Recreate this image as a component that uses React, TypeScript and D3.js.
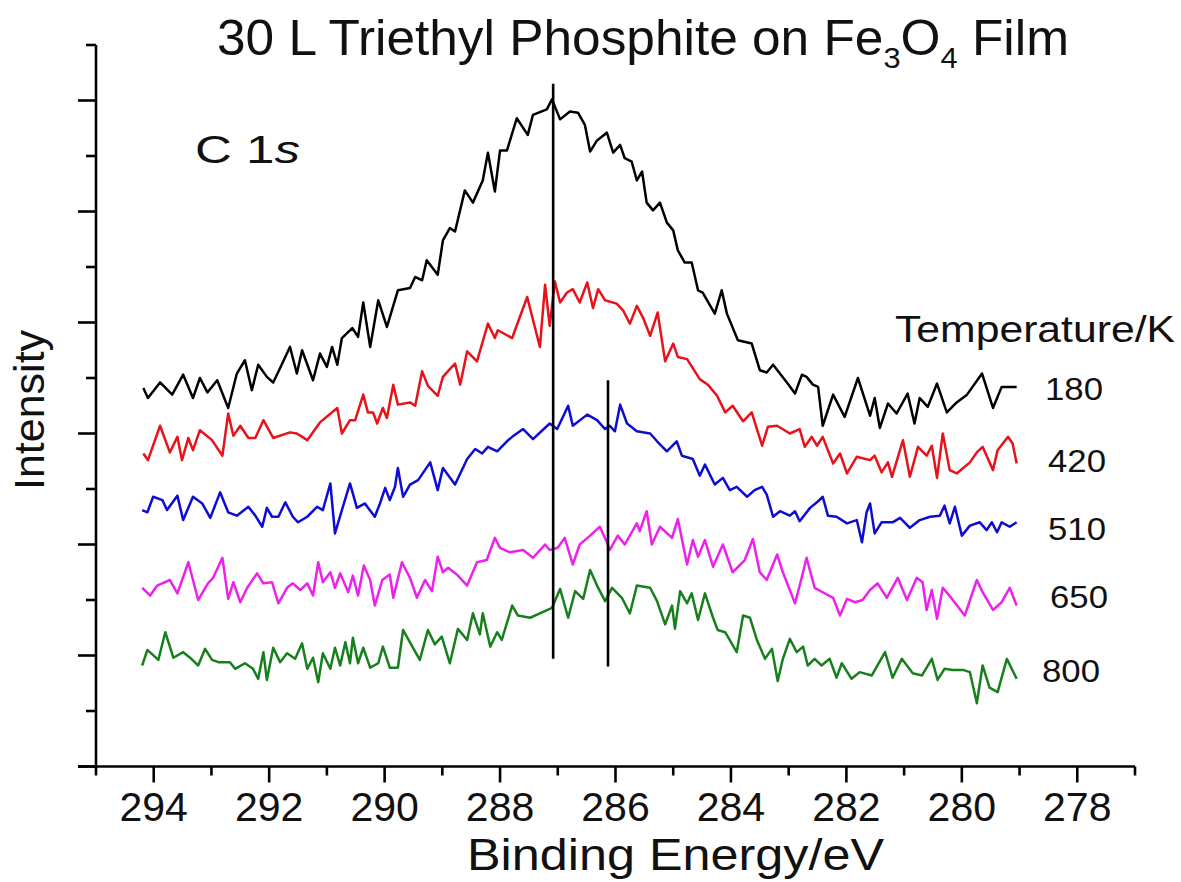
import React from 'react';
import * as d3 from 'd3';

// ---------- data ----------
const xMajorTicks = [294, 292, 290, 288, 286, 284, 282, 280, 278];
const xMinorTicks = [295, 293, 291, 289, 287, 285, 283, 281, 279, 277];
const yMajorTicks = [0, 1, 2, 3, 4, 5, 6];
const yMinorTicks = [0.5, 1.5, 2.5, 3.5, 4.5, 5.5, 6.5];
const temperatures = ['180', '420', '510', '650', '800'];
const seriesColors = ['#000000', '#e8121a', '#0c0cd2', '#ec22ec', '#17801c'];

// [binding energy eV, intensity a.u.]
const t180: [number, number][] = [[294.18,3.41],[294.10,3.32],[293.89,3.46],[293.68,3.35],[293.49,3.53],[293.32,3.32],[293.20,3.50],[293.07,3.37],[292.90,3.48],[292.71,3.23],[292.56,3.54],[292.42,3.66],[292.30,3.39],[292.19,3.62],[292.04,3.51],[291.93,3.46],[291.81,3.59],[291.64,3.78],[291.52,3.54],[291.43,3.75],[291.24,3.48],[291.12,3.72],[291.00,3.60],[290.91,3.78],[290.82,3.62],[290.74,3.86],[290.56,3.95],[290.46,3.87],[290.37,4.18],[290.25,3.78],[290.11,4.20],[289.96,3.96],[289.77,4.29],[289.56,4.31],[289.47,4.41],[289.35,4.38],[289.27,4.56],[289.08,4.43],[288.99,4.74],[288.87,4.85],[288.78,4.82],[288.61,5.19],[288.47,5.08],[288.30,5.28],[288.21,5.53],[288.09,5.18],[288.00,5.55],[287.88,5.55],[287.71,5.84],[287.52,5.69],[287.43,5.87],[287.19,5.92],[287.10,6.01],[286.96,5.83],[286.79,5.90],[286.65,5.89],[286.53,5.78],[286.44,5.54],[286.32,5.64],[286.15,5.71],[286.04,5.53],[285.92,5.60],[285.84,5.48],[285.72,5.45],[285.63,5.28],[285.54,5.36],[285.46,5.08],[285.35,5.01],[285.23,5.08],[285.11,4.90],[285.00,4.83],[284.92,4.65],[284.80,4.54],[284.68,4.54],[284.57,4.29],[284.49,4.27],[284.28,4.08],[284.16,4.29],[284.07,4.08],[283.88,3.84],[283.64,3.81],[283.50,3.57],[283.38,3.55],[283.27,3.62],[283.03,3.46],[282.89,3.36],[282.77,3.53],[282.69,3.51],[282.58,3.44],[282.49,3.42],[282.41,3.07],[282.23,3.35],[282.03,3.15],[281.80,3.50],[281.59,3.16],[281.51,3.32],[281.42,3.05],[281.28,3.27],[281.13,3.18],[280.94,3.36],[280.82,3.09],[280.73,3.32],[280.59,3.24],[280.43,3.45],[280.26,3.19],[280.09,3.28],[279.91,3.35],[279.65,3.54],[279.46,3.23],[279.31,3.42],[279.05,3.42]];

const t420: [number, number][] = [[294.18,2.82],[294.10,2.76],[293.89,3.07],[293.72,2.83],[293.59,2.97],[293.51,2.76],[293.40,2.96],[293.32,2.85],[293.20,3.03],[292.99,2.94],[292.81,2.80],[292.71,3.18],[292.62,2.98],[292.50,3.07],[292.36,2.96],[292.24,2.96],[292.10,3.12],[291.93,2.96],[291.64,3.01],[291.52,3.00],[291.34,2.94],[291.12,3.10],[290.82,3.23],[290.74,3.00],[290.60,3.12],[290.51,3.12],[290.37,3.35],[290.29,3.19],[290.20,3.19],[290.13,3.09],[290.03,3.23],[289.96,3.14],[289.85,3.44],[289.77,3.26],[289.56,3.28],[289.47,3.25],[289.35,3.56],[289.25,3.43],[289.08,3.34],[288.99,3.51],[288.87,3.58],[288.78,3.63],[288.69,3.44],[288.57,3.74],[288.40,3.65],[288.21,3.99],[288.09,3.86],[288.04,3.93],[287.79,3.86],[287.53,4.23],[287.31,3.78],[287.22,4.34],[287.14,3.97],[287.05,4.37],[286.96,4.18],[286.84,4.27],[286.74,4.30],[286.62,4.18],[286.49,4.36],[286.39,4.13],[286.30,4.30],[286.18,4.20],[285.98,4.17],[285.87,4.11],[285.75,3.99],[285.63,4.15],[285.52,4.04],[285.40,3.88],[285.27,4.09],[285.14,3.65],[285.00,3.81],[284.92,3.69],[284.76,3.67],[284.54,3.49],[284.40,3.44],[284.24,3.34],[284.10,3.19],[283.97,3.25],[283.79,3.11],[283.64,3.19],[283.46,2.89],[283.36,3.06],[283.20,3.07],[282.98,3.00],[282.81,3.04],[282.72,2.88],[282.60,2.97],[282.51,2.89],[282.41,2.97],[282.23,2.73],[282.11,2.82],[281.99,2.64],[281.82,2.79],[281.59,2.76],[281.51,2.80],[281.39,2.65],[281.28,2.74],[281.21,2.61],[281.02,2.94],[280.90,2.61],[280.76,2.88],[280.61,2.80],[280.52,2.89],[280.43,2.60],[280.33,3.00],[280.21,2.67],[280.09,2.64],[279.86,2.74],[279.74,2.83],[279.64,2.88],[279.46,2.67],[279.38,2.85],[279.20,2.97],[279.12,2.91],[279.05,2.73]];

const t510: [number, number][] = [[294.20,2.31],[294.11,2.29],[294.01,2.43],[293.85,2.40],[293.77,2.31],[293.59,2.44],[293.49,2.22],[293.32,2.43],[293.16,2.37],[293.02,2.24],[292.85,2.47],[292.71,2.29],[292.56,2.26],[292.36,2.34],[292.24,2.26],[292.12,2.16],[292.04,2.33],[291.95,2.25],[291.84,2.25],[291.72,2.38],[291.59,2.25],[291.50,2.20],[291.34,2.25],[291.17,2.34],[291.07,2.31],[290.94,2.55],[290.86,2.10],[290.74,2.31],[290.60,2.55],[290.48,2.33],[290.34,2.37],[290.30,2.34],[290.17,2.25],[290.08,2.37],[289.99,2.51],[289.91,2.40],[289.82,2.52],[289.77,2.69],[289.68,2.43],[289.56,2.54],[289.42,2.58],[289.21,2.74],[289.08,2.49],[288.99,2.69],[288.78,2.54],[288.57,2.77],[288.43,2.86],[288.31,2.82],[288.21,2.88],[288.05,2.84],[287.88,2.93],[287.79,2.97],[287.60,3.04],[287.43,2.95],[287.14,3.09],[287.01,3.04],[286.82,3.25],[286.74,3.07],[286.49,3.17],[286.32,3.12],[286.18,3.04],[286.10,3.07],[286.01,3.02],[285.92,3.26],[285.80,3.09],[285.63,3.02],[285.40,3.00],[285.28,2.93],[285.11,2.84],[284.94,2.93],[284.85,2.80],[284.66,2.77],[284.54,2.62],[284.45,2.72],[284.28,2.54],[284.14,2.60],[284.02,2.49],[283.90,2.52],[283.72,2.43],[283.59,2.49],[283.46,2.52],[283.38,2.45],[283.27,2.25],[283.15,2.30],[282.98,2.26],[282.89,2.30],[282.81,2.21],[282.63,2.33],[282.51,2.38],[282.41,2.43],[282.32,2.26],[282.17,2.25],[281.99,2.19],[281.82,2.22],[281.73,2.02],[281.65,2.29],[281.59,2.37],[281.51,2.10],[281.39,2.20],[281.20,2.20],[281.07,2.24],[280.90,2.15],[280.73,2.22],[280.55,2.25],[280.38,2.26],[280.30,2.35],[280.21,2.19],[280.12,2.34],[280.00,2.08],[279.86,2.17],[279.69,2.20],[279.57,2.13],[279.48,2.20],[279.39,2.11],[279.31,2.20],[279.17,2.16],[279.05,2.20]];

const t650: [number, number][] = [[294.20,1.61],[294.06,1.54],[293.94,1.63],[293.72,1.68],[293.59,1.56],[293.40,1.84],[293.23,1.50],[293.06,1.65],[292.97,1.70],[292.81,1.88],[292.71,1.51],[292.62,1.66],[292.50,1.48],[292.38,1.61],[292.21,1.74],[292.10,1.65],[291.95,1.66],[291.84,1.47],[291.69,1.61],[291.59,1.65],[291.46,1.59],[291.34,1.65],[291.24,1.54],[291.15,1.84],[291.07,1.66],[290.94,1.75],[290.86,1.61],[290.77,1.74],[290.63,1.57],[290.55,1.72],[290.46,1.54],[290.36,1.81],[290.25,1.68],[290.17,1.45],[290.04,1.68],[289.91,1.73],[289.85,1.52],[289.70,1.84],[289.56,1.70],[289.44,1.52],[289.30,1.68],[289.18,1.58],[289.08,1.89],[288.99,1.75],[288.90,1.79],[288.75,1.73],[288.57,1.63],[288.40,1.84],[288.23,1.86],[288.09,2.06],[288.00,1.97],[287.83,1.93],[287.60,1.95],[287.43,1.88],[287.22,2.00],[287.14,1.95],[287.00,1.97],[286.88,2.06],[286.74,1.82],[286.62,2.00],[286.44,2.08],[286.27,2.16],[286.15,2.02],[286.10,1.95],[285.96,2.08],[285.84,2.00],[285.63,2.19],[285.58,2.12],[285.46,2.30],[285.37,2.00],[285.23,2.16],[285.02,2.06],[284.92,2.23],[284.76,1.82],[284.66,2.04],[284.57,1.89],[284.45,2.04],[284.31,1.80],[284.14,2.00],[283.97,1.75],[283.76,1.86],[283.62,2.05],[283.50,1.75],[283.38,1.68],[283.20,1.91],[283.10,1.75],[282.89,1.47],[282.75,1.75],[282.69,1.88],[282.55,1.61],[282.41,1.57],[282.23,1.52],[282.11,1.36],[281.99,1.51],[281.85,1.48],[281.72,1.50],[281.59,1.59],[281.46,1.65],[281.30,1.52],[281.11,1.70],[280.95,1.50],[280.78,1.70],[280.68,1.66],[280.61,1.41],[280.52,1.59],[280.43,1.33],[280.33,1.61],[280.17,1.51],[279.95,1.36],[279.74,1.68],[279.64,1.57],[279.46,1.41],[279.31,1.48],[279.17,1.61],[279.05,1.45]];

const t800: [number, number][] = [[294.20,0.91],[294.11,1.05],[293.92,0.96],[293.80,1.21],[293.66,0.98],[293.49,1.03],[293.37,0.98],[293.23,0.91],[293.11,1.06],[292.99,0.96],[292.88,0.94],[292.68,0.94],[292.59,0.88],[292.42,0.93],[292.28,0.88],[292.19,0.79],[292.10,1.03],[292.04,0.78],[291.93,1.07],[291.81,0.94],[291.69,1.02],[291.55,0.97],[291.43,1.11],[291.34,0.88],[291.24,0.98],[291.15,0.76],[291.07,1.02],[290.94,0.88],[290.86,1.07],[290.77,0.91],[290.68,1.12],[290.60,0.93],[290.55,1.16],[290.46,0.93],[290.37,1.07],[290.25,0.89],[290.11,0.93],[290.03,1.08],[289.91,0.89],[289.77,0.89],[289.68,1.23],[289.52,1.08],[289.39,0.96],[289.25,1.23],[289.13,1.10],[289.01,1.17],[288.87,0.93],[288.73,1.24],[288.57,1.14],[288.47,1.38],[288.35,1.19],[288.30,1.38],[288.17,1.08],[288.05,1.21],[287.97,1.14],[287.79,1.45],[287.69,1.36],[287.48,1.34],[287.31,1.38],[287.10,1.43],[286.96,1.60],[286.82,1.34],[286.70,1.58],[286.56,1.51],[286.44,1.77],[286.32,1.63],[286.18,1.49],[286.06,1.61],[285.89,1.52],[285.75,1.38],[285.63,1.63],[285.40,1.61],[285.28,1.49],[285.14,1.28],[285.02,1.45],[284.97,1.24],[284.88,1.58],[284.76,1.47],[284.68,1.56],[284.57,1.32],[284.45,1.56],[284.31,1.34],[284.23,1.23],[284.10,1.21],[283.90,1.03],[283.79,1.36],[283.67,1.34],[283.55,1.14],[283.41,0.97],[283.29,1.06],[283.19,0.77],[283.10,0.97],[282.98,1.15],[282.86,1.03],[282.75,1.08],[282.67,0.91],[282.55,0.97],[282.43,0.91],[282.29,0.97],[282.17,0.80],[282.08,0.93],[281.91,0.79],[281.77,0.85],[281.56,0.82],[281.33,1.03],[281.20,0.80],[281.04,0.97],[280.85,0.84],[280.69,0.82],[280.52,0.97],[280.42,0.78],[280.30,0.88],[280.16,0.87],[279.98,0.87],[279.86,0.85],[279.74,0.57],[279.64,0.91],[279.52,0.71],[279.38,0.67],[279.22,0.97],[279.05,0.79]];

const allSeries = [t180, t420, t510, t650, t800];

// reference lines: energy, low intensity, high intensity
const markerEnergies = [287.08, 286.13];
const markerLow = [0.97, 0.9];
const markerHigh = [6.15, 3.48];

const FONT = "'Liberation Sans', Arial, Helvetica, sans-serif";

export default function App() {
  const W = 1181;
  const H = 882;
  const x = d3.scaleLinear().domain([295, 277]).range([96, 1135]);
  const y = d3.scaleLinear().domain([0, 6.5]).range([766.5, 45]);
  const line = d3
    .line<[number, number]>()
    .x((d) => x(d[0]))
    .y((d) => y(d[1]));

  const axisY = x(295);
  const axisX = y(0);

  // label placement (pixels)
  const tempLabelX = [1045, 1048, 1048, 1050, 1042];
  const tempLabelY = [400, 472, 540, 608, 682];

  return (
    <div style={{ position: 'absolute', left: 0, top: 0 }}>
      <svg width={W} height={H} style={{ display: 'block', background: '#fff' }}>
        <rect x={0} y={0} width={W} height={H} fill="#fff" />
        {/* series */}
        {allSeries.map((s, i) => (
          <path
            key={i}
            d={line(s) || ''}
            fill="none"
            stroke={seriesColors[i]}
            strokeWidth={2.5}
            strokeLinejoin="round"
          />
        ))}
        {/* marker lines */}
        {markerEnergies.map((e, i) => (
          <line
            key={'m' + i}
            x1={x(e)}
            x2={x(e)}
            y1={y(markerLow[i])}
            y2={y(markerHigh[i])}
            stroke="#000"
            strokeWidth={2.6}
          />
        ))}
        {/* axes */}
        <line x1={axisY} x2={axisY} y1={y(6.5)} y2={axisX} stroke="#000" strokeWidth={2.6} />
        <line x1={axisY - 18} x2={x(277)} y1={axisX} y2={axisX} stroke="#000" strokeWidth={2.6} />
        {yMajorTicks.map((t) => (
          <line key={'ym' + t} x1={axisY - 18} x2={axisY} y1={y(t)} y2={y(t)} stroke="#000" strokeWidth={2.6} />
        ))}
        {yMinorTicks.map((t) => (
          <line key={'yn' + t} x1={axisY - 10} x2={axisY} y1={y(t)} y2={y(t)} stroke="#000" strokeWidth={2.6} />
        ))}
        {xMajorTicks.map((t) => (
          <line key={'xm' + t} x1={x(t)} x2={x(t)} y1={axisX} y2={axisX + 16} stroke="#000" strokeWidth={2.6} />
        ))}
        {xMinorTicks.map((t) => (
          <line key={'xn' + t} x1={x(t)} x2={x(t)} y1={axisX} y2={axisX + 9} stroke="#000" strokeWidth={2.6} />
        ))}
        {xMajorTicks.map((t) => (
          <text
            key={'xl' + t}
            x={x(t)}
            y={821}
            textAnchor="middle"
            fontFamily={FONT}
            fontSize={41}
            fill="#111"
          >
            {t}
          </text>
        ))}
        {/* axis titles */}
        <text
          x={467}
          y={870}
          fontFamily={FONT}
          fontSize={44}
          fill="#111"
          textLength={417}
          lengthAdjust="spacingAndGlyphs"
        >
          Binding Energy/eV
        </text>
        <text
          transform="translate(44,410) rotate(-90)"
          textAnchor="middle"
          fontFamily={FONT}
          fontSize={43}
          fill="#111"
        >
          Intensity
        </text>
        {/* title */}
        <text
          x={217}
          y={55}
          fontFamily={FONT}
          fontSize={50}
          fill="#111"
          textLength={852}
          lengthAdjust="spacingAndGlyphs"
        >
          30 L Triethyl Phosphite on Fe
          <tspan fontSize={30} dy={13}>3</tspan>
          <tspan dy={-13}>O</tspan>
          <tspan fontSize={30} dy={13}>4</tspan>
          <tspan dy={-13}> Film</tspan>
        </text>
        {/* C 1s */}
        <text
          x={195}
          y={163}
          fontFamily={FONT}
          fontSize={39}
          fill="#111"
          textLength={105}
          lengthAdjust="spacingAndGlyphs"
        >
          C 1<tspan fontStyle="italic">s</tspan>
        </text>
        {/* legend */}
        <text
          x={895}
          y={342}
          fontFamily={FONT}
          fontSize={37}
          fill="#111"
          textLength={280}
          lengthAdjust="spacingAndGlyphs"
        >
          Temperature/K
        </text>
        {temperatures.map((t, i) => (
          <text
            key={'t' + t}
            x={tempLabelX[i]}
            y={tempLabelY[i]}
            fontFamily={FONT}
            fontSize={32}
            fill="#111"
            textLength={58}
            lengthAdjust="spacingAndGlyphs"
          >
            {t}
          </text>
        ))}
      </svg>
    </div>
  );
}
